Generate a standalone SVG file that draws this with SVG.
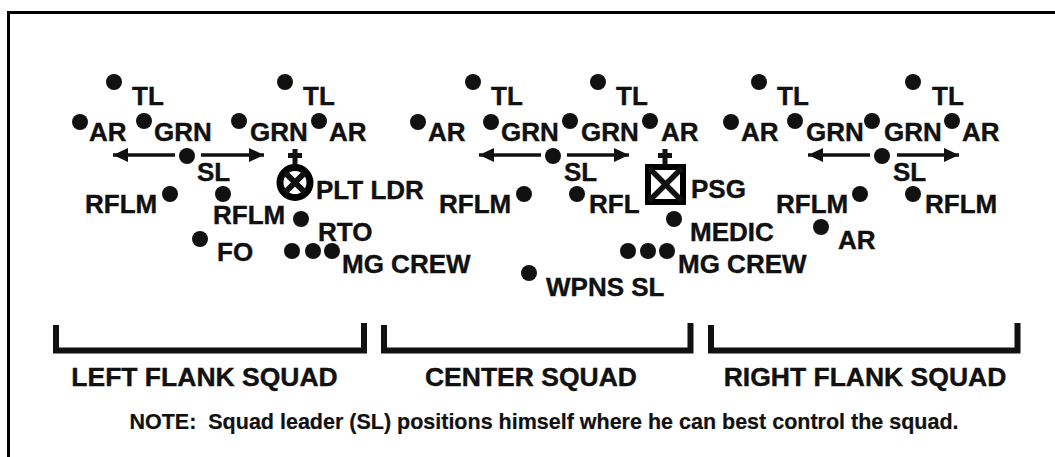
<svg xmlns="http://www.w3.org/2000/svg" width="1055" height="457" viewBox="0 0 1055 457">
<style>
text{font-family:"Liberation Sans",Arial,sans-serif;font-weight:700;fill:#111;stroke:#111;stroke-width:.4px;white-space:pre}
.l{font-size:26px}
.b{font-size:26.5px}
.n{font-size:21.5px;stroke-width:.2px}
.d{fill:#111}
.ln{stroke:#111;fill:none}
</style>
<defs>
<marker id="ah" markerUnits="userSpaceOnUse" markerWidth="16" markerHeight="16" refX="15" refY="7.5" orient="auto"><path d="M0,0.5L15,7.5L0,14.5z" fill="#111"/></marker>
</defs>
<rect width="1055" height="457" fill="#fff"/>
<path id="frame" d="M8.500 457V12.500H1055" fill="none" stroke="#000" stroke-width="3"/>
<g id="connectors" class="ln" stroke-width="3.500">
<path d="M175 155H113" marker-end="url(#ah)"/><path d="M201 155H264" marker-end="url(#ah)"/>
<path d="M541 155H479" marker-end="url(#ah)"/><path d="M567 155H629" marker-end="url(#ah)"/>
<path d="M870 155H808" marker-end="url(#ah)"/><path d="M897 155H959" marker-end="url(#ah)"/>
</g>
<g id="left-squad">
<g class="d"><circle cx="114" cy="82" r="8"/><circle cx="285" cy="82" r="8"/><circle cx="80" cy="122" r="8"/><circle cx="144" cy="121" r="8"/><circle cx="239" cy="121" r="8"/><circle cx="319" cy="121" r="8"/><circle cx="187" cy="156" r="8"/><circle cx="170" cy="194" r="8"/><circle cx="223" cy="194" r="8"/><circle cx="301" cy="219" r="8"/><circle cx="200" cy="239" r="8"/><circle cx="292" cy="251" r="8"/><circle cx="313" cy="251" r="8"/><circle cx="332" cy="251" r="8"/></g>
<text class="l" x="132" y="105">TL</text><text class="l" x="303" y="105">TL</text><text class="l" x="89" y="141">AR</text><text class="l" x="154" y="141">GRN</text><text class="l" x="250" y="141">GRN</text><text class="l" x="329" y="141">AR</text><text class="l" x="197" y="181">SL</text><text class="l" x="85" y="213">RFLM</text><text class="l" x="213" y="224">RFLM</text><text class="l" x="316" y="199">PLT LDR</text><text class="l" x="318" y="241">RTO</text><text class="l" x="217" y="261">FO</text><text class="l" x="342" y="273">MG CREW</text>
</g>
<g id="plt-ldr">
<circle cx="295" cy="182.500" r="15" fill="none" stroke="#000" stroke-width="7"/><path class="ln" stroke-width="6" d="M285 172.500L305 192.500M305 172.500L285 192.500"/><path class="ln" stroke-width="5" d="M295 149V165M288 155.500H302"/>
</g>
<g id="center-squad">
<g class="d"><circle cx="473" cy="82" r="8"/><circle cx="598" cy="82" r="8"/><circle cx="418" cy="122" r="8"/><circle cx="491" cy="122" r="8"/><circle cx="570" cy="121" r="8"/><circle cx="650" cy="121" r="8"/><circle cx="553" cy="156" r="8"/><circle cx="524" cy="194" r="8"/><circle cx="577" cy="194" r="8"/><circle cx="674" cy="219" r="8"/><circle cx="628" cy="251" r="8"/><circle cx="648" cy="251" r="8"/><circle cx="667" cy="251" r="8"/><circle cx="529" cy="273" r="8"/></g>
<text class="l" x="491" y="105">TL</text><text class="l" x="616" y="105">TL</text><text class="l" x="428" y="141">AR</text><text class="l" x="501" y="141">GRN</text><text class="l" x="581" y="141">GRN</text><text class="l" x="661" y="141">AR</text><text class="l" x="564" y="181">SL</text><text class="l" x="439" y="213">RFLM</text><text class="l" x="589" y="213">RFL</text><text class="l" x="691" y="198">PSG</text><text class="l" x="690" y="241">MEDIC</text><text class="l" x="678" y="273">MG CREW</text><text class="l" x="546" y="296">WPNS SL</text>
</g>
<g id="psg">
<rect x="648" y="167" width="35" height="35" fill="none" stroke="#000" stroke-width="6"/><path class="ln" stroke-width="5.500" d="M649 168L682 201M682 168L649 201"/><path class="ln" stroke-width="5" d="M665 149V165M658 155.500H672"/>
</g>
<g id="right-squad">
<g class="d"><circle cx="759" cy="82" r="8"/><circle cx="913" cy="82" r="8"/><circle cx="731" cy="122" r="8"/><circle cx="795" cy="121" r="8"/><circle cx="872" cy="121" r="8"/><circle cx="952" cy="121" r="8"/><circle cx="882" cy="156" r="8"/><circle cx="860" cy="194" r="8"/><circle cx="913" cy="194" r="8"/><circle cx="821" cy="227" r="8"/></g>
<text class="l" x="777" y="105">TL</text><text class="l" x="932" y="105">TL</text><text class="l" x="741" y="141">AR</text><text class="l" x="806" y="141">GRN</text><text class="l" x="884" y="141">GRN</text><text class="l" x="962" y="141">AR</text><text class="l" x="893" y="181">SL</text><text class="l" x="776" y="213">RFLM</text><text class="l" x="925" y="213">RFLM</text><text class="l" x="838" y="249">AR</text>
</g>
<g id="brackets" class="ln" stroke-width="6">
<path d="M56 325V350.500H364V323"/><path d="M384 325V350.500H690.500V323"/><path d="M711 325V350.500H1017.500V323"/>
</g>
<g id="labels">
<text class="b" x="204.500" y="386" text-anchor="middle">LEFT FLANK SQUAD</text><text class="b" x="531" y="386" text-anchor="middle">CENTER SQUAD</text><text class="b" x="865" y="386" text-anchor="middle">RIGHT FLANK SQUAD</text>
<text class="n" x="544" y="429" text-anchor="middle">NOTE:  Squad leader (SL) positions himself where he can best control the squad.</text>
</g>
</svg>
